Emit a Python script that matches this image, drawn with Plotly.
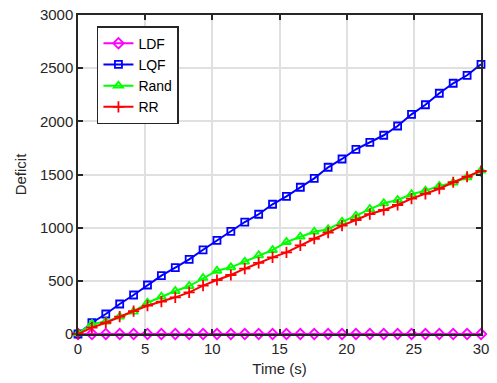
import numpy as np
import plotly.graph_objects as go

n_points = 30
t = np.linspace(0, 30, n_points)

ldf = [0] * 30
lqf = [0, 106, 188, 282, 367, 461, 549, 624, 702, 792, 881, 966, 1053, 1126, 1220,
       1295, 1380, 1464, 1568, 1646, 1737, 1803, 1869, 1956, 2066, 2156, 2264, 2358, 2433, 2536]
rand = [5, 94, 116, 163, 210, 294, 351, 404, 451, 527, 595, 627, 680, 740, 790,
        865, 915, 962, 985, 1055, 1112, 1175, 1229, 1260, 1314, 1348, 1392, 1423, 1474, 1536]
rr = [0, 60, 106, 163, 216, 266, 304, 345, 392, 455, 508, 555, 614, 668, 721,
      768, 834, 896, 953, 1019, 1072, 1128, 1166, 1213, 1273, 1317, 1366, 1427, 1479, 1533]

x_ticks = [0, 5, 10, 15, 20, 25, 30]
y_ticks = [0, 500, 1000, 1500, 2000, 2500, 3000]

series = [
    ("LDF", ldf, "#ff00ff", "diamond-open", 8),
    ("LQF", lqf, "#0000ff", "square-open", 7),
    ("Rand", rand, "#00ff00", "triangle-up-open", 8),
    ("RR", rr, "#ff0000", "cross-thin", 8),
]

fig = go.Figure()
for name, vals, col, sym, sz in series:
    fig.add_trace(go.Scatter(
        x=t, y=vals, name=name, mode="lines+markers",
        line=dict(color=col, width=2),
        marker=dict(symbol=sym, size=sz, color=col, line=dict(color=col, width=1.8)),
        cliponaxis=False,
    ))

axis_common = dict(
    showline=True, linecolor="#262626", linewidth=1.5, mirror="ticks",
    ticks="inside", ticklen=5, tickwidth=1.5, tickcolor="#262626",
    showgrid=True, gridcolor="#e0e0e0", gridwidth=1.5,
    zeroline=False, automargin=False,
    tickfont=dict(family="Liberation Sans, Arial", size=15, color="#262626"),
    title_font=dict(family="Liberation Sans, Arial", size=15, color="#262626"),
)

fig.update_xaxes(range=[0, 30], tickvals=x_ticks, title_text="Time (s)",
                 title_standoff=8, **axis_common)
fig.update_yaxes(range=[0, 3000], tickvals=y_ticks, title_text="Deficit",
                 title_standoff=10, **axis_common)

fig.update_layout(
    width=497, height=383,
    margin=dict(l=78, r=16, t=15, b=49),
    plot_bgcolor="white", paper_bgcolor="white",
    font=dict(family="Liberation Sans, Arial", size=15, color="#262626"),
    legend=dict(
        x=0.047, y=0.965, xanchor="left", yanchor="top",
        bordercolor="#262626", borderwidth=1.5, bgcolor="white",
        font=dict(family="Liberation Sans, Arial", size=14, color="#000000"),
        itemwidth=30, tracegroupgap=0,
    ),
    showlegend=True,
)

fig.write_html("out.html")
